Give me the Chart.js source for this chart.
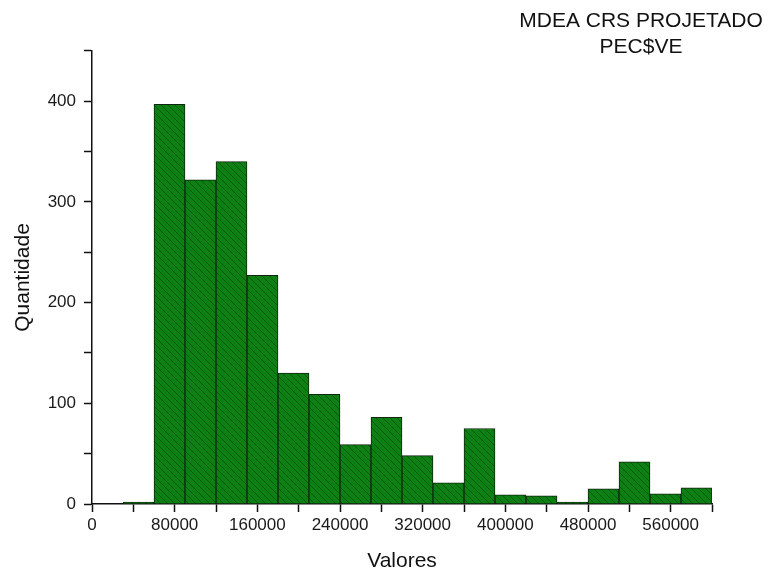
<!DOCTYPE html>
<html>
<head>
<meta charset="utf-8">
<script src="https://cdn.jsdelivr.net/npm/chart.js@4/dist/chart.umd.min.js"></script>
<style>
html,body{margin:0;padding:0;background:#fff;}
#wrap{width:777px;height:577px;position:relative;}
</style>
</head>
<body>
<div id="wrap"><canvas id="c"></canvas></div>
<script>
// ---- data ----
const titleLines = ['MDEA CRS PROJETADO', 'PEC$VE'];
const xAxisTitle = 'Valores';
const yAxisTitle = 'Quantidade';
// histogram bins (centres of 30000-wide bins)
const binCenters = [45000, 75000, 105000, 135000, 165000, 195000, 225000, 255000, 285000, 315000,
                    345000, 375000, 405000, 435000, 465000, 495000, 525000, 555000, 585000];
const counts     = [2, 397, 322, 340, 227, 130, 109, 59, 86, 48,
                    21, 75, 9, 8, 2, 15, 42, 10, 16];
const xTickLabels = [0, 80000, 160000, 240000, 320000, 400000, 480000, 560000];
const yTickLabels = [0, 100, 200, 300, 400];

// ---- styling helpers ----
const canvas = document.getElementById('c');
const ctx = canvas.getContext('2d');
function hatchPattern() {
  const s = 7;
  const p = document.createElement('canvas');
  p.width = s; p.height = s;
  const g = p.getContext('2d');
  g.fillStyle = '#0d8013';
  g.fillRect(0, 0, s, s);
  g.strokeStyle = 'rgba(0,50,0,0.5)';
  g.lineWidth = 1;
  for (let k = -1; k <= 1; k++) {
    g.beginPath();
    g.moveTo(k * s, 0);
    g.lineTo(k * s + s, s);
    g.stroke();
  }
  return ctx.createPattern(p, 'repeat');
}

const titlePlace = {
  id: 'titlePlace',
  afterLayout(chart) {
    const t = chart.titleBlock;
    if (!t) return;
    t.left = 491; t.right = 791;
    t.top = 8; t.bottom = 8 + t.height;
  }
};

const FONT = "'Liberation Sans', Arial, sans-serif";

new Chart(ctx, {
  type: 'bar',
  data: {
    datasets: [{
      data: binCenters.map((x, i) => ({ x: x, y: counts[i] })),
      backgroundColor: hatchPattern(),
      borderColor: '#0f260f',
      borderWidth: 1,
      barPercentage: 1,
      categoryPercentage: 1
    }]
  },
  plugins: [titlePlace],
  options: {
    responsive: true,
    maintainAspectRatio: false,
    animation: false,
    layout: { padding: { top: 0, right: 65, bottom: 0, left: 0 } },
    plugins: {
      legend: { display: false },
      tooltip: { enabled: false },
      title: {
        display: true,
        text: titleLines,
        align: 'center',
        color: '#111',
        font: { family: FONT, size: 21, weight: 'normal', lineHeight: 1.26 },
        padding: { top: 0, bottom: -2 }
      }
    },
    scales: {
      x: {
        type: 'linear',
        min: 0,
        max: 600000,
        offset: false,
        afterFit(scale) { scale.height = 73; },
        border: { display: true, color: '#111', width: 1.5 },
        grid: { display: true, offset: false, drawOnChartArea: false, drawTicks: true,
                tickLength: 8, tickColor: '#111', tickWidth: 1.5 },
        ticks: {
          stepSize: 40000,
          maxTicksLimit: 100,
          autoSkip: false,
          maxRotation: 0,
          padding: 3,
          color: '#1a1a1a',
          font: { family: FONT, size: 17 },
          callback: (v) => xTickLabels.includes(v) ? String(v) : ''
        },
        title: {
          display: true, text: xAxisTitle, color: '#111',
          font: { family: FONT, size: 21 },
          padding: { top: 0, bottom: 3 }
        }
      },
      y: {
        type: 'linear',
        min: 0,
        max: 450,
        afterFit(scale) { scale.width = 92; },
        border: { display: true, color: '#111', width: 1.5 },
        grid: { display: true, drawOnChartArea: false, drawTicks: true,
                tickLength: 8, tickColor: '#111', tickWidth: 1.5 },
        ticks: {
          stepSize: 50,
          autoSkip: false,
          padding: 8,
          color: '#1a1a1a',
          font: { family: FONT, size: 17 },
          callback: (v) => yTickLabels.includes(v) ? String(v) : ''
        },
        title: {
          display: true, text: yAxisTitle, color: '#111',
          font: { family: FONT, size: 21 },
          padding: { top: 11, bottom: 0 }
        }
      }
    }
  }
});
</script>
</body>
</html>
